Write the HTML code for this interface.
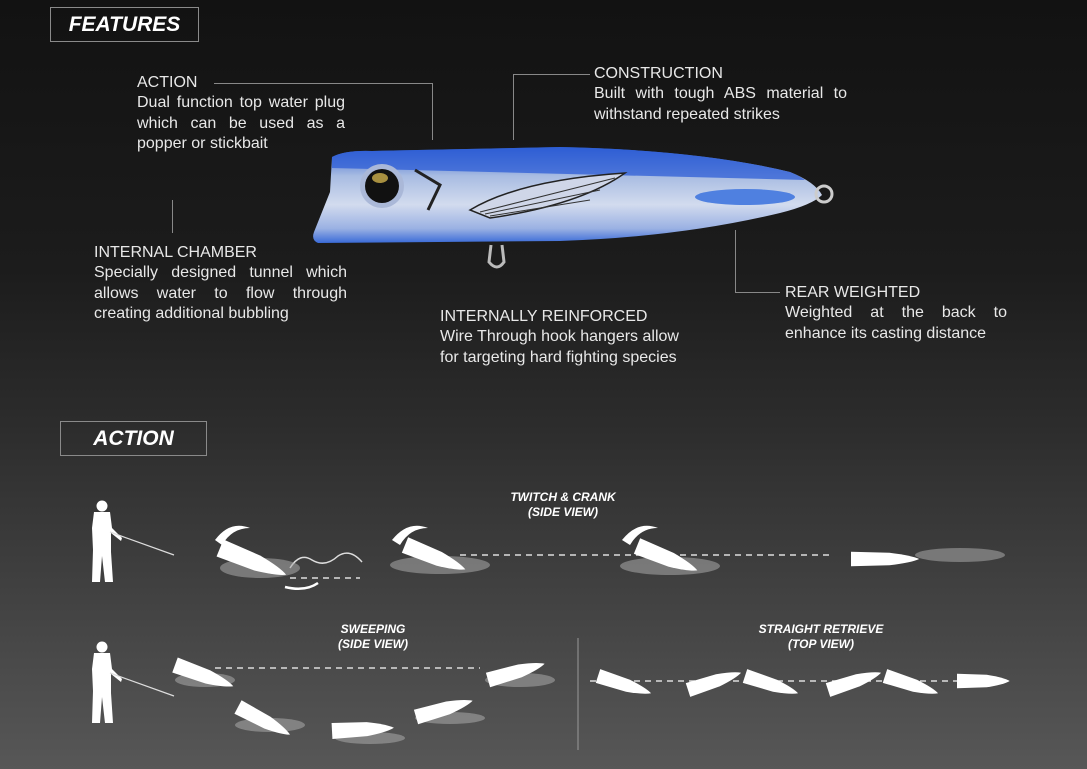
<!DOCTYPE html>
<html><head><meta charset="utf-8"><style>
html,body{margin:0;padding:0}
body{width:1087px;height:769px;overflow:hidden;background:linear-gradient(180deg,#121212 0%,#1c1c1c 35%,#2c2c2c 55%,#444 80%,#575757 100%);font-family:"Liberation Sans",sans-serif;position:relative}
.box{position:absolute;border:1px solid #8a8a8a;color:#fff;font-weight:bold;font-style:italic;font-size:21px;text-align:center;box-sizing:border-box}
.t{position:absolute;color:#e8e8e8;font-size:16px;line-height:20.5px}
.j{text-align:justify;text-align-last:left}
.ln{position:absolute;background:#888}
</style></head><body>
<div class="box" style="left:50px;top:7px;width:149px;height:35px;line-height:33px">FEATURES</div>
<div class="box" style="left:60px;top:421px;width:147px;height:35px;line-height:33px">ACTION</div>

<div class="t" style="left:137px;top:73px">ACTION</div>
<div class="t j" style="left:137px;top:93px;width:208px">Dual function top water plug which can be used as a popper or stickbait</div>
<div class="ln" style="left:214px;top:83px;width:219px;height:1px"></div>
<div class="ln" style="left:432px;top:83px;width:1px;height:57px"></div>

<div class="t" style="left:594px;top:64px">CONSTRUCTION</div>
<div class="t j" style="left:594px;top:84px;width:253px">Built with tough ABS material to withstand repeated strikes</div>
<div class="ln" style="left:513px;top:74px;width:77px;height:1px"></div>
<div class="ln" style="left:513px;top:74px;width:1px;height:66px"></div>

<div class="t" style="left:94px;top:243px">INTERNAL CHAMBER</div>
<div class="t j" style="left:94px;top:263px;width:253px">Specially designed tunnel which allows water to flow through creating additional bubbling</div>
<div class="ln" style="left:172px;top:200px;width:1px;height:33px"></div>

<div class="t" style="left:440px;top:307px">INTERNALLY REINFORCED</div>
<div class="t" style="left:440px;top:327px;width:260px">Wire Through hook hangers allow for targeting hard fighting species</div>

<div class="t" style="left:785px;top:283px">REAR WEIGHTED</div>
<div class="t j" style="left:785px;top:303px;width:222px">Weighted at the back to enhance its casting distance</div>
<div class="ln" style="left:735px;top:292px;width:45px;height:1px"></div>
<div class="ln" style="left:735px;top:230px;width:1px;height:62px"></div>

<svg width="1087" height="769" style="position:absolute;left:0;top:0" xmlns="http://www.w3.org/2000/svg">
<defs>
<linearGradient id="bd" x1="0" y1="0" x2="0" y2="1">
<stop offset="0" stop-color="#2f5fcf"/><stop offset="0.3" stop-color="#a8bce2"/><stop offset="0.6" stop-color="#d2dbee"/><stop offset="0.85" stop-color="#9ab1e3"/><stop offset="1" stop-color="#3a6bd8"/>
</linearGradient>
<path id="L" d="M0,-8 L35,-7 Q55,-4 62,0 Q55,4 35,7 L0,8 Z" fill="#fff"/>
<g id="M" fill="#fff"><circle cx="10" cy="6" r="5.5"/><path d="M2,12 L18,12 L20,28 L30,38 L29,41 L19,33 L19,52 L21,82 L13,82 L10,56 L8,82 L0,82 L1,50 L0,28 Z"/><line x1="18" y1="32" x2="82" y2="55" stroke="#ddd" stroke-width="1.2"/></g>
</defs>
<!-- main lure -->
<path d="M332,157 Q345,150 372,151 L560,147 Q700,150 790,172 Q815,182 822,195 Q812,205 780,213 Q680,237 560,241 L318,243 Q311,240 314,232 L330,192 Z" fill="url(#bd)"/>
<path d="M332,157 Q345,150 372,151 L560,147 Q700,150 790,172 Q800,176 805,180 L332,168Z" fill="#2d5ed6" opacity="0.75"/>
<ellipse cx="745" cy="197" rx="50" ry="8" fill="#4f80e0"/>
<circle cx="382" cy="186" r="22" fill="#aab8d8"/><circle cx="382" cy="186" r="17" fill="#111"/><ellipse cx="380" cy="178" rx="8" ry="5" fill="#a89040"/>
<path d="M415,170 L440,185 L428,210" stroke="#222" stroke-width="3" fill="none"/>
<path d="M470,210 Q520,180 625,173 Q580,205 490,218 Z" fill="#cfd6e8" stroke="#222" stroke-width="1.5"/>
<path d="M480,212 L615,178 M485,214 L600,190 M490,216 L590,200" stroke="#333" stroke-width="1"/>
<circle cx="824" cy="194" r="8" fill="none" stroke="#ccc" stroke-width="3"/>
<path d="M491,245 L489,262 Q497,272 504,262 L502,245" fill="none" stroke="#bbb" stroke-width="3"/>

<g font-family="Liberation Sans,sans-serif" font-weight="bold" font-style="italic" font-size="12" fill="#fff" text-anchor="middle">
<text x="563" y="501">TWITCH &amp; CRANK</text><text x="563" y="516">(SIDE VIEW)</text>
<text x="373" y="633">SWEEPING</text><text x="373" y="648">(SIDE VIEW)</text>
<text x="821" y="633">STRAIGHT RETRIEVE</text><text x="821" y="648">(TOP VIEW)</text>
</g>
<line x1="578" y1="638" x2="578" y2="750" stroke="#999" stroke-width="1"/>
<use href="#M" x="92" y="500"/><use href="#M" x="92" y="641"/>
<g stroke="#ddd" stroke-width="1.5" stroke-dasharray="6,5" fill="none">
<line x1="460" y1="555" x2="830" y2="555"/><line x1="290" y1="578" x2="360" y2="578"/>
<line x1="215" y1="668" x2="480" y2="668"/><line x1="590" y1="681" x2="1000" y2="681"/>
</g>
<path d="M290,568 Q300,552 312,560 Q325,568 338,556 Q350,548 362,562" stroke="#ddd" stroke-width="1.5" fill="none"/>
<path d="M318,583 Q305,592 285,587" stroke="#fff" stroke-width="2.5" fill="none"/>
<g fill="#aaa" opacity="0.55">
<ellipse cx="260" cy="568" rx="40" ry="10"/><ellipse cx="440" cy="565" rx="50" ry="9"/><ellipse cx="670" cy="566" rx="50" ry="9"/><ellipse cx="960" cy="555" rx="45" ry="7"/>
<ellipse cx="205" cy="680" rx="30" ry="7"/><ellipse cx="270" cy="725" rx="35" ry="7"/><ellipse cx="370" cy="738" rx="35" ry="6"/><ellipse cx="450" cy="718" rx="35" ry="6"/><ellipse cx="520" cy="680" rx="35" ry="7"/>
</g>
<g>
<use href="#L" transform="translate(220,548) rotate(22) scale(1.15)"/>
<use href="#L" transform="translate(405,545) rotate(22) scale(1.05)"/>
<use href="#L" transform="translate(637,546) rotate(22) scale(1.05)"/>
<use href="#L" transform="translate(851,559) scale(1.1,0.9)"/>
<use href="#L" transform="translate(175,665) rotate(20) scale(1)"/>
<use href="#L" transform="translate(238,707) rotate(28) scale(0.95)"/>
<use href="#L" transform="translate(332,731) rotate(-3) scale(1)"/>
<use href="#L" transform="translate(416,717) rotate(-16) scale(0.95)"/>
<use href="#L" transform="translate(488,680) rotate(-16) scale(0.95)"/>
<use href="#L" transform="translate(598,676) rotate(18) scale(0.9)"/>
<use href="#L" transform="translate(688,690) rotate(-18) scale(0.9)"/>
<use href="#L" transform="translate(745,676) rotate(18) scale(0.9)"/>
<use href="#L" transform="translate(828,690) rotate(-18) scale(0.9)"/>
<use href="#L" transform="translate(885,676) rotate(18) scale(0.9)"/>
<use href="#L" transform="translate(957,681) scale(0.85,0.9)"/>
</g>
<g fill="#fff"><path d="M215,540 Q230,520 250,528 Q232,528 222,545Z"/><path d="M392,540 Q408,520 428,528 Q410,528 400,545Z"/><path d="M622,540 Q638,520 658,528 Q640,528 630,545Z"/></g>
</svg>
</body></html>
